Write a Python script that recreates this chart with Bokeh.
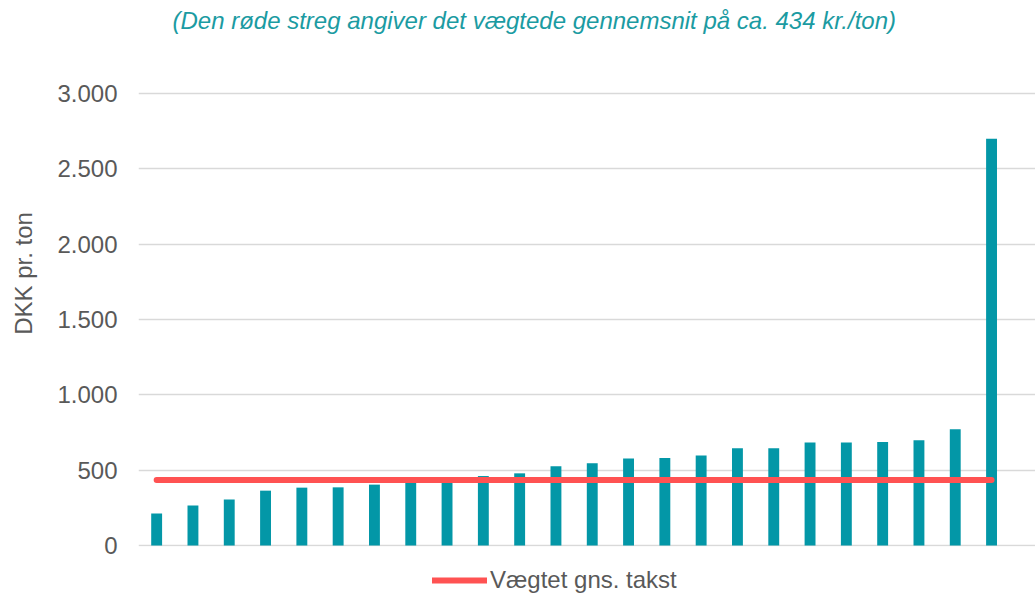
from bokeh.plotting import figure
from bokeh.layouts import column
from bokeh.models import Range1d, CustomJSTickFormatter, Legend, LegendItem, Label, ColumnDataSource
from bokeh.embed import file_html
from bokeh.resources import INLINE

# Data (sorted tariffs, DKK per ton)
values = [213, 266, 306, 364, 384, 386, 404, 420, 425, 461, 479, 526,
          546, 577, 581, 597, 645, 645, 683, 683, 687, 699, 772, 2700]
weighted_avg = 434
idx = list(range(len(values)))
avg_series = [weighted_avg] * len(values)
y_ticks = [0, 500, 1000, 1500, 2000, 2500, 3000]

title_text = "(Den røde streg angiver det vægtede gennemsnit på ca. 434 kr./ton)"
y_label = "DKK pr. ton"
legend_label = "Vægtet gns. takst"

BAR = "#0397A7"
RED = "#FF5252"
GREY = "#595959"
FONT = "Liberation Sans"

# layout geometry (pixels)
FRAME_W, FRAME_H = 897, 546
PX_PER_UNIT = 452 / 3000          # 3000 units span 452 px
X0 = -0.5
X1 = X0 + FRAME_W / 36.3
Y0 = -1 / PX_PER_UNIT
Y1 = Y0 + FRAME_H / PX_PER_UNIT

p = figure(frame_width=FRAME_W, frame_height=FRAME_H, output_backend="svg",
           toolbar_location=None, x_axis_location=None,
           x_range=Range1d(X0, X1), y_range=Range1d(Y0, Y1),
           min_border_left=138, min_border_right=0, min_border_top=0,
           min_border_bottom=12)
p.outline_line_color = None
p.background_fill_color = "white"
p.border_fill_color = "white"

src = ColumnDataSource(dict(x=idx, top=values))
p.vbar(x="x", top="top", width=0.3, source=src, fill_color=BAR, line_color=None)
avg_src = ColumnDataSource(dict(x=idx, y=avg_series))
p.line(x="x", y="y", source=avg_src, line_color=RED, line_width=6, line_cap="round")

p.xgrid.visible = False
p.ygrid.grid_line_color = "#d9d9d9"
p.ygrid.grid_line_width = 1.5
p.yaxis.ticker = y_ticks
p.yaxis.formatter = CustomJSTickFormatter(
    code="return tick.toFixed(0).replace(/\\B(?=(\\d{3})+(?!\\d))/g, '.');")
p.yaxis.axis_line_color = None
p.yaxis.major_tick_line_color = None
p.yaxis.minor_tick_line_color = None
p.yaxis.major_label_standoff = 15
p.yaxis.major_label_text_font = FONT
p.yaxis.major_label_text_font_size = "24px"
p.yaxis.major_label_text_color = GREY
p.yaxis.axis_label = y_label
p.yaxis.axis_label_text_font = FONT
p.yaxis.axis_label_text_font_size = "24px"
p.yaxis.axis_label_text_font_style = "normal"
p.yaxis.axis_label_text_color = GREY
p.yaxis.axis_label_standoff = 17

title = Label(x=X0, y=Y1 - 20 / PX_PER_UNIT, x_offset=34, text=title_text,
              text_baseline="middle", text_align="left",
              text_font=FONT, text_font_size="24px", text_font_style="italic",
              text_color="#1B9BA2")
p.add_layout(title)

# legend strip below the chart (its line renderer lies outside the strip's ranges)
lg = figure(width=1035, height=40, output_backend="svg", toolbar_location=None,
            x_axis_location=None, y_axis_location=None,
            x_range=Range1d(-1000, -999), y_range=Range1d(-1000, -999),
            min_border_left=0, min_border_right=0, min_border_top=0, min_border_bottom=0)
lg.outline_line_color = None
lg.grid.visible = False
lg_r = lg.line(x="x", y="y", source=avg_src, line_color=RED, line_width=6, line_cap="round")
legend = Legend(items=[LegendItem(label=legend_label, renderers=[lg_r])],
                orientation="horizontal", location=(294, 4),
                glyph_width=55, glyph_height=24, label_height=24,
                label_standoff=3, padding=0, margin=0,
                border_line_color=None, background_fill_alpha=0,
                label_text_font=FONT, label_text_font_size="24px",
                label_text_color=GREY)
lg.add_layout(legend)

layout = column(p, lg, spacing=0)
open("out.html", "w").write(file_html(layout, INLINE))
